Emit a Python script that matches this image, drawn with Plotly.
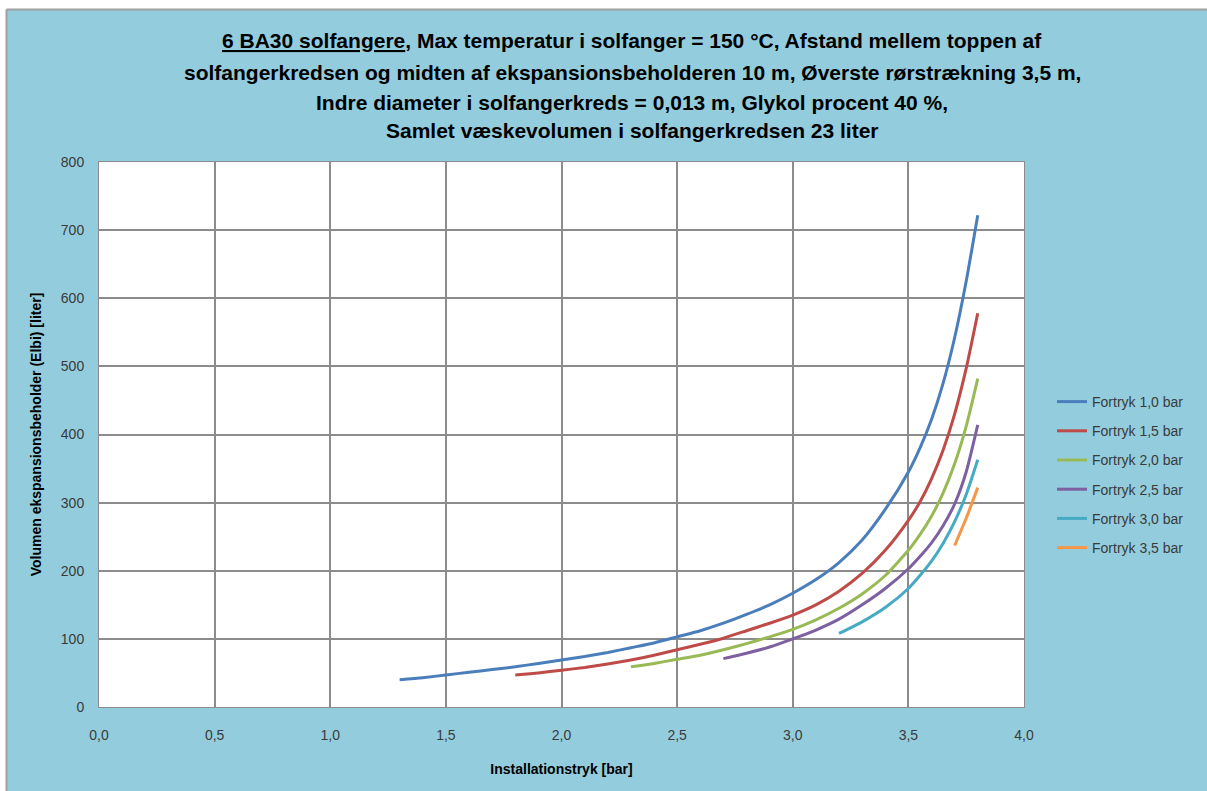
import plotly.graph_objects as go

# ---- data ----
series_names = ["Fortryk 1,0 bar", "Fortryk 1,5 bar", "Fortryk 2,0 bar",
                "Fortryk 2,5 bar", "Fortryk 3,0 bar", "Fortryk 3,5 bar"]

x_10 = [1.3, 1.4, 1.5, 1.6, 1.7, 1.8, 1.9, 2.0, 2.1, 2.2, 2.3, 2.4, 2.5, 2.6, 2.7,
        2.8, 2.9, 3.0, 3.1, 3.2, 3.3, 3.4, 3.5, 3.55, 3.6, 3.65, 3.7, 3.75, 3.8]
y_10 = [40, 43, 47, 51, 55, 59, 64, 69, 74, 80, 87, 94, 103, 112, 123,
        136, 150, 167, 187, 212, 245, 290, 345, 380, 422, 475, 542, 625, 722]

x_15 = [1.8, 1.9, 2.0, 2.1, 2.2, 2.3, 2.4, 2.5, 2.6, 2.7, 2.8, 2.9, 3.0, 3.1,
        3.2, 3.3, 3.4, 3.5, 3.55, 3.6, 3.65, 3.7, 3.75, 3.8]
y_15 = [47, 50, 54, 58, 63, 69, 76, 84, 92, 101, 112, 123, 135, 150,
        170, 196, 230, 274, 301, 335, 377, 430, 497, 578]

x_20 = [2.3, 2.4, 2.5, 2.6, 2.7, 2.8, 2.9, 3.0, 3.1, 3.2, 3.3, 3.4, 3.5,
        3.55, 3.6, 3.65, 3.7, 3.75, 3.8]
y_20 = [59, 64, 70, 76, 84, 93, 103, 114, 128, 145, 166, 193, 230,
        253, 280, 314, 357, 412, 482]

x_25 = [2.7, 2.8, 2.9, 3.0, 3.1, 3.2, 3.3, 3.4, 3.5, 3.55, 3.6, 3.65, 3.7, 3.75, 3.8]
y_25 = [71, 79, 88, 100, 113, 129, 150, 174, 203, 221, 241, 266, 298, 345, 414]

x_30 = [3.2, 3.3, 3.4, 3.5, 3.55, 3.6, 3.65, 3.7, 3.75, 3.8]
y_30 = [108, 125, 146, 174, 193, 214, 240, 272, 312, 363]

x_35 = [3.7, 3.75, 3.8]
y_35 = [237, 277, 322]

xs = [x_10, x_15, x_20, x_25, x_30, x_35]
ys = [y_10, y_15, y_20, y_25, y_30, y_35]
colors = ["#4A7EBB", "#BE4B48", "#98B954", "#7D60A0", "#46AAC5", "#F79646"]

x_ticks = [0.0, 0.5, 1.0, 1.5, 2.0, 2.5, 3.0, 3.5, 4.0]
y_ticks = [0, 100, 200, 300, 400, 500, 600, 700, 800]

title_lines = [
    "<b><u>6 BA30 solfangere</u>, Max temperatur i solfanger = 150 °C, Afstand mellem toppen af</b>",
    "<b>solfangerkredsen og midten af ekspansionsbeholderen 10 m, Øverste rørstrækning 3,5 m,</b>",
    "<b>Indre diameter i solfangerkreds = 0,013 m, Glykol procent 40 %,</b>",
    "<b>Samlet væskevolumen i solfangerkredsen 23 liter</b>",
]
x_title = "Installationstryk [bar]"
y_title = "Volumen ekspansionsbeholder (Elbi) [liter]"

FONT = "Liberation Sans, Arial, sans-serif"
BG = "#93CDDD"
TICK = "#3a3a3a"

fig = go.Figure()
for i, (name, x, y, c) in enumerate(zip(series_names, xs, ys, colors)):
    fig.add_trace(go.Scatter(x=x, y=y, mode="lines", name=name,
                             legendgroup=f"g{i}",
                             line=dict(color=c, width=3, shape="spline", smoothing=0.6)))

W, H = 1207, 791
L, R, T, B = 99, 183, 162, 84
pw, ph = W - L - R, H - T - B


def px_x(p):
    return (p - L) / pw


def px_y(p):
    return (H - B - p) / ph


annotations = []
title_y = [40, 72, 102, 131]
for txt, yy in zip(title_lines, title_y):
    annotations.append(dict(text=txt, x=px_x(632), y=px_y(yy), xref="paper", yref="paper",
                            xanchor="center", yanchor="middle", showarrow=False,
                            font=dict(family=FONT, size=21, color="#000000")))

shapes = [
    dict(type="rect", xref="paper", yref="paper", x0=px_x(-5), x1=px_x(6.5),
         y0=px_y(H + 5), y1=px_y(-5), fillcolor="white", line=dict(width=0), layer="below"),
    dict(type="rect", xref="paper", yref="paper", x0=px_x(-5), x1=px_x(W + 5),
         y0=px_y(9), y1=px_y(-5), fillcolor="white", line=dict(width=0), layer="below"),
    dict(type="line", xref="paper", yref="paper", x0=px_x(6.5), x1=px_x(W + 5),
         y0=px_y(9.5), y1=px_y(9.5), line=dict(color="#a0a0a0", width=2)),
    dict(type="line", xref="paper", yref="paper", x0=px_x(6.5), x1=px_x(6.5),
         y0=px_y(9.5), y1=px_y(H + 5), line=dict(color="#a0a0a0", width=2)),
]

fig.update_layout(
    width=W, height=H,
    margin=dict(l=L, r=R, t=T, b=B, pad=0),
    paper_bgcolor=BG, plot_bgcolor="white",
    separators=", ",
    font=dict(family=FONT, size=12, color=TICK),
    annotations=annotations, shapes=shapes,
    showlegend=True,
    legend=dict(x=px_x(1052), y=px_y(386), xanchor="left", yanchor="top",
                bgcolor="rgba(0,0,0,0)", tracegroupgap=8,
                font=dict(family=FONT, size=14, color=TICK),
                itemwidth=30),
    xaxis=dict(range=[0, 4], tickvals=x_ticks, tickformat=".1f",
               tickfont=dict(family=FONT, size=14, color=TICK),
               showgrid=True, gridcolor="#8c8c8c", gridwidth=1.5,
               showline=True, linecolor="#8c8c8c", linewidth=1, mirror=True,
               zeroline=False, ticks="", ticklabelstandoff=15,
               title=dict(text="<b>" + x_title + "</b>", standoff=22,
                          font=dict(family=FONT, size=14, color="#000000"))),
    yaxis=dict(range=[0, 800], tickvals=y_ticks,
               tickfont=dict(family=FONT, size=14, color=TICK),
               showgrid=True, gridcolor="#8c8c8c", gridwidth=1.5,
               showline=True, linecolor="#8c8c8c", linewidth=1, mirror=True,
               zeroline=False, ticks="", ticklabelstandoff=11,
               title=dict(text="<b>" + y_title + "</b>", standoff=15,
                          font=dict(family=FONT, size=14, color="#000000"))),
)

fig.write_html("out.html",
               config={"displayModeBar": False},
               post_script="document.body.style.margin='0';"
                           "document.body.style.overflow='hidden';")
